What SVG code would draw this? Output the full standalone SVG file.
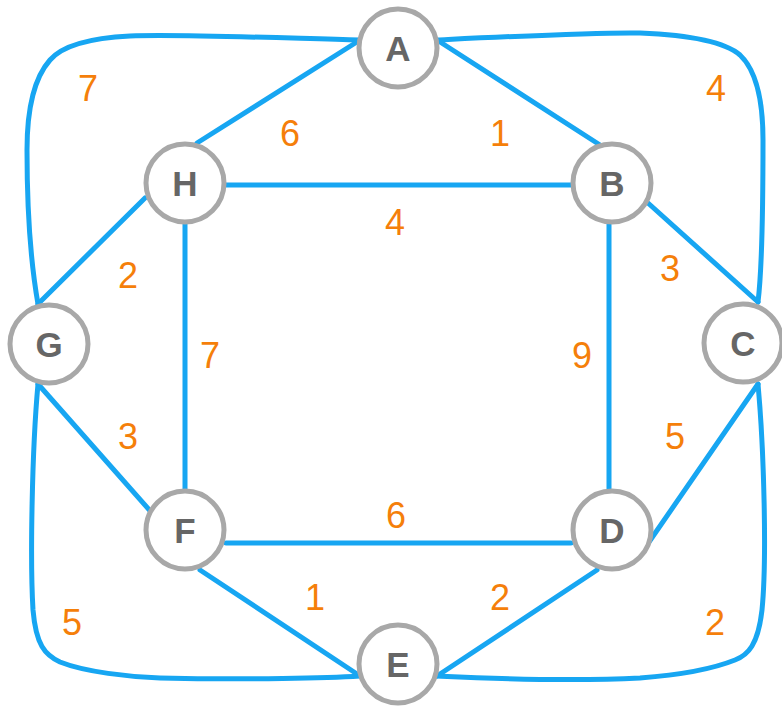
<svg xmlns="http://www.w3.org/2000/svg" width="782" height="707" viewBox="0 0 782 707">
<style>
.e{fill:none;stroke:#17A6F2;stroke-width:5;stroke-linecap:round;stroke-linejoin:round}
.n circle{fill:#fff;stroke:#A8A8A8;stroke-width:5}
.n text{font-family:"Liberation Sans",Arial,sans-serif;font-weight:bold;font-size:35px;fill:#666;text-anchor:middle}
.w{font-family:"Liberation Sans",Arial,sans-serif;font-size:36px;fill:#F57F0A;text-anchor:middle}
</style>
<rect width="782" height="707" fill="#fff"/>
<g id="edges">
<path class="e" d="M360 40 C280 38 180 34 130 36 C90 38 62 46 50 60 C34 78 27 110 27 150 C27 220 32 270 38 304"/>
<path class="e" d="M437 40 C520 36 600 32 640 33 C690 35 725 42 740 55 C758 72 763 105 763 140 C763 220 762 270 758 302"/>
<path class="e" d="M38 384 C32 450 30 560 33 610 C36 645 45 655 60 662 C85 672 130 677 160 678 C250 680 330 678 360 676"/>
<path class="e" d="M758 384 C764 450 767 560 762 610 C758 645 748 655 735 660 C710 670 680 675 640 678 C560 682 480 678 437 676"/>
<path class="e" d="M360 40 L197 143"/>
<path class="e" d="M437 40 L600 145"/>
<path class="e" d="M226 185 L571 185"/>
<path class="e" d="M185 224 L185 489"/>
<path class="e" d="M609 224 L609 489"/>
<path class="e" d="M648 203 L758 302"/>
<path class="e" d="M145 198 L38 304"/>
<path class="e" d="M38 384 L152 513"/>
<path class="e" d="M758 384 L649 542"/>
<path class="e" d="M226 543 L571 543"/>
<path class="e" d="M200 570 L360 676"/>
<path class="e" d="M597 570 L437 676"/>
</g>
<g id="A" class="n"><circle cx="398" cy="48" r="39"/><text x="398" y="61">A</text></g>
<g id="B" class="n"><circle cx="612" cy="183" r="39"/><text x="612" y="196">B</text></g>
<g id="C" class="n"><circle cx="743" cy="343" r="39"/><text x="743" y="356">C</text></g>
<g id="D" class="n"><circle cx="612" cy="530" r="39"/><text x="612" y="543">D</text></g>
<g id="E" class="n"><circle cx="398" cy="664" r="39"/><text x="398" y="677">E</text></g>
<g id="F" class="n"><circle cx="185" cy="530" r="39"/><text x="185" y="543">F</text></g>
<g id="G" class="n"><circle cx="49" cy="344" r="39"/><text x="49" y="357">G</text></g>
<g id="H" class="n"><circle cx="185" cy="183" r="39"/><text x="185" y="196">H</text></g>
<g id="labels">
<text class="w" x="88" y="101">7</text>
<text class="w" x="716" y="101">4</text>
<text class="w" x="290" y="146">6</text>
<text class="w" x="500" y="146">1</text>
<text class="w" x="395" y="235">4</text>
<text class="w" x="128" y="288">2</text>
<text class="w" x="670" y="281">3</text>
<text class="w" x="210" y="368">7</text>
<text class="w" x="582" y="368">9</text>
<text class="w" x="128" y="449">3</text>
<text class="w" x="675" y="449">5</text>
<text class="w" x="396" y="528">6</text>
<text class="w" x="315" y="610">1</text>
<text class="w" x="500" y="610">2</text>
<text class="w" x="72" y="635">5</text>
<text class="w" x="715" y="635">2</text>
</g>
</svg>
